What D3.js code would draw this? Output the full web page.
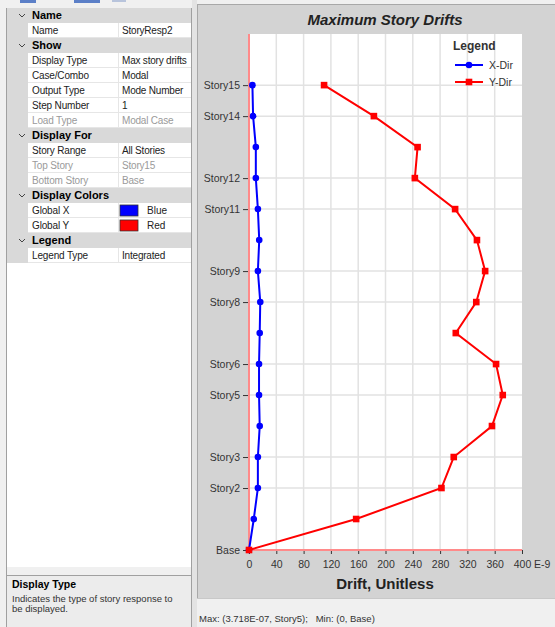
<!DOCTYPE html>
<html>
<head>
<meta charset="utf-8">
<script src="https://cdn.jsdelivr.net/npm/d3@7"></script>
<style>
  html, body { margin: 0; padding: 0; background: #f0f0f0; }
  svg { display: block; }
  text { font-family: "Liberation Sans", Arial, sans-serif; }
</style>
</head>
<body>
<svg id="view" width="555" height="627"></svg>
<script>
// ---- data ----
const stories = ["Base", "Story1", "Story2", "Story3", "Story4", "Story5", "Story6", "Story7",
  "Story8", "Story9", "Story10", "Story11", "Story12", "Story13", "Story14", "Story15"];
const labeledStories = ["Base", "Story2", "Story3", "Story5", "Story6", "Story8", "Story9",
  "Story11", "Story12", "Story14", "Story15"];
// drift values in units of 1E-9
const driftX = [0, 7, 13, 13, 15.7, 14.7, 14.7, 15.7, 16.5, 13, 15, 13, 10, 10, 6, 5];
const driftY = [0, 157, 282, 300, 356, 371.8, 362, 303, 333, 346, 334, 302, 243, 247, 183, 110];
const xTicks = [0, 40, 80, 120, 160, 200, 240, 280, 320, 360, 400];
const seriesNames = ["X-Dir", "Y-Dir"];
const seriesColors = ["#0000ff", "#ff0000"];

// property grid rows: [kind, label, value]
const gridRows = [
  ["head", "Name", ""],
  ["row", "Name", "StoryResp2"],
  ["head", "Show", ""],
  ["row", "Display Type", "Max story drifts"],
  ["row", "Case/Combo", "Modal"],
  ["row", "Output Type", "Mode Number"],
  ["row", "Step Number", "1"],
  ["dim", "Load Type", "Modal Case"],
  ["head", "Display For", ""],
  ["row", "Story Range", "All Stories"],
  ["dim", "Top Story", "Story15"],
  ["dim", "Bottom Story", "Base"],
  ["head", "Display Colors", ""],
  ["color", "Global X", "Blue"],
  ["color", "Global Y", "Red"],
  ["head", "Legend", ""],
  ["row", "Legend Type", "Integrated"]
];
const swatchColors = { "Blue": "#0000ff", "Red": "#ff0000" };

const svg = d3.select("#view");

// ---- window chrome ----
svg.append("rect").attr("x", 0).attr("y", 0).attr("width", 555).attr("height", 627).attr("fill", "#f0f0f0");
svg.append("rect").attr("x", 20).attr("y", 0).attr("width", 16).attr("height", 3).attr("fill", "#5b7fc7");
svg.append("rect").attr("x", 74).attr("y", 0).attr("width", 26).attr("height", 3).attr("fill", "#5b7fc7");
svg.append("rect").attr("x", 112).attr("y", 0).attr("width", 14).attr("height", 2).attr("fill", "#b8c4dc");

// ---- property grid ----
const gx0 = 7, gx1 = 191, gSplit = 118, rowH = 15, gTop = 8;
svg.append("rect").attr("x", gx0).attr("y", gTop).attr("width", gx1 - gx0).attr("height", 567 - gTop)
  .attr("fill", "#ffffff");
const rows = svg.append("g");
gridRows.forEach((r, i) => {
  const y = gTop + i * rowH;
  if (r[0] === "head") {
    rows.append("rect").attr("x", gx0).attr("y", y).attr("width", gx1 - gx0).attr("height", rowH).attr("fill", "#d9d9d9");
    rows.append("path").attr("d", `M${19},${y + 6} l3,3 l3,-3`).attr("fill", "none").attr("stroke", "#444").attr("stroke-width", 1);
    rows.append("text").attr("x", 32).attr("y", y + 11).attr("font-size", 11).attr("font-weight", "bold")
      .attr("fill", "#000").text(r[1]);
  } else {
    rows.append("rect").attr("x", gx0).attr("y", y).attr("width", 21).attr("height", rowH).attr("fill", "#d9d9d9");
    rows.append("line").attr("x1", 28).attr("x2", gx1).attr("y1", y + rowH - 0.5).attr("y2", y + rowH - 0.5)
      .attr("stroke", "#e6e6e6");
    rows.append("line").attr("x1", gSplit + 0.5).attr("x2", gSplit + 0.5).attr("y1", y).attr("y2", y + rowH)
      .attr("stroke", "#e6e6e6");
    const col = r[0] === "dim" ? "#9a9a9a" : "#222";
    rows.append("text").attr("x", 32).attr("y", y + 11).attr("font-size", 10).attr("letter-spacing", -0.15)
      .attr("fill", col).text(r[1]);
    if (r[0] === "color") {
      rows.append("rect").attr("x", 120).attr("y", y + 2).attr("width", 18).attr("height", 11)
        .attr("fill", swatchColors[r[2]]).attr("stroke", "#333").attr("stroke-width", 0.8);
      rows.append("text").attr("x", 147).attr("y", y + 11).attr("font-size", 10).attr("fill", col).text(r[2]);
    } else {
      rows.append("text").attr("x", 122).attr("y", y + 11).attr("font-size", 10).attr("letter-spacing", -0.2)
        .attr("fill", col).text(r[2]);
    }
  }
});
svg.append("line").attr("x1", gx0 - 0.5).attr("x2", gx0 - 0.5).attr("y1", gTop).attr("y2", 627).attr("stroke", "#a0a0a0");
svg.append("line").attr("x1", gx1 + 0.5).attr("x2", gx1 + 0.5).attr("y1", gTop).attr("y2", 627).attr("stroke", "#a0a0a0");

// description box
svg.append("rect").attr("x", gx0).attr("y", 575).attr("width", gx1 - gx0).attr("height", 52).attr("fill", "#ececec");
svg.append("line").attr("x1", gx0).attr("x2", gx1).attr("y1", 575.5).attr("y2", 575.5).attr("stroke", "#a0a0a0");
svg.append("text").attr("x", 12).attr("y", 588).attr("font-size", 10.5).attr("font-weight", "bold").text("Display Type");
svg.append("text").attr("x", 12).attr("y", 602).attr("font-size", 9.5).attr("fill", "#333")
  .text("Indicates the type of story response to");
svg.append("text").attr("x", 12).attr("y", 612).attr("font-size", 9.5).attr("fill", "#333").text("be displayed.");

// splitter
svg.append("rect").attr("x", 192).attr("y", 0).attr("width", 5).attr("height", 627).attr("fill", "#e3e3e3");

// ---- chart panel ----
svg.append("rect").attr("x", 197).attr("y", 4).attr("width", 358).attr("height", 594).attr("fill", "#d3d3d3");
svg.append("line").attr("x1", 197.5).attr("x2", 197.5).attr("y1", 4).attr("y2", 598).attr("stroke", "#a8a8a8");
svg.append("line").attr("x1", 197).attr("x2", 555).attr("y1", 4.5).attr("y2", 4.5).attr("stroke", "#a8a8a8");

// status bar
svg.append("rect").attr("x", 197).attr("y", 598).attr("width", 358).attr("height", 29).attr("fill", "#f0f0f0");
svg.append("line").attr("x1", 197).attr("x2", 555).attr("y1", 598.5).attr("y2", 598.5).attr("stroke", "#c8c8c8");
const maxIdx = d3.maxIndex(driftY);
svg.append("text").attr("x", 199).attr("y", 622).attr("font-size", 9.5).attr("fill", "#333")
  .attr("xml:space", "preserve")
  .text(`Max: (${(driftY[maxIdx] * 1e-9).toExponential(3).replace("e-", "E-0")}, ${stories[maxIdx]});   Min: (0, Base)`);

// ---- plot ----
const x = d3.scaleLinear().domain([0, 400]).range([249, 522]);
const y = d3.scaleLinear().domain([0, 16.65]).range([550, 34]);
const storyIndex = s => stories.indexOf(s);

const plot = svg.append("g");
plot.append("rect").attr("x", x(0)).attr("y", y(16.65)).attr("width", x(400) - x(0)).attr("height", y(0) - y(16.65))
  .attr("fill", "#ffffff");

// gridlines
plot.append("g").selectAll("line").data(xTicks.slice(1, -1)).join("line")
  .attr("x1", d => x(d)).attr("x2", d => x(d)).attr("y1", y(16.65)).attr("y2", y(0))
  .attr("stroke", "#e2e2e2").attr("stroke-width", 1.5);
plot.append("g").selectAll("line").data(labeledStories.slice(1)).join("line")
  .attr("x1", x(0)).attr("x2", x(400)).attr("y1", d => y(storyIndex(d))).attr("y2", d => y(storyIndex(d)))
  .attr("stroke", "#e2e2e2").attr("stroke-width", 1.5);

// axes
const tickSizeX = 4, tickPadX = 7, tickFont = 10.5;
const xAxis = d3.axisBottom(x).tickValues(xTicks).tickSize(tickSizeX).tickPadding(tickPadX);
const gxA = plot.append("g").attr("transform", `translate(0,${y(0)})`).call(xAxis);
gxA.select(".domain").remove();
gxA.selectAll("line").attr("stroke", "#333");
gxA.selectAll("text").attr("font-size", tickFont).attr("fill", "#333").attr("font-family", "Liberation Sans, Arial, sans-serif");

const yAxis = d3.axisLeft(y).tickValues(labeledStories.map(storyIndex)).tickFormat(i => stories[i])
  .tickSize(5).tickPadding(3);
const gyA = plot.append("g").attr("transform", `translate(${x(0) - 1},0)`).call(yAxis);
gyA.select(".domain").remove();
gyA.selectAll("line").attr("stroke", "#333");
gyA.selectAll("text").attr("font-size", 10.5).attr("fill", "#333").attr("font-family", "Liberation Sans, Arial, sans-serif");

plot.append("line").attr("x1", x(0)).attr("x2", x(0)).attr("y1", y(16.65)).attr("y2", y(0))
  .attr("stroke", "#ff8a8a").attr("stroke-width", 2);
plot.append("line").attr("x1", x(0)).attr("x2", x(400)).attr("y1", y(0)).attr("y2", y(0))
  .attr("stroke", "#ff8a8a").attr("stroke-width", 2);

// exponent label on the tick-label baseline
svg.append("text").attr("x", 534).attr("y", y(0) + Math.max(tickSizeX, 0) + tickPadX).attr("dy", "0.71em")
  .attr("font-size", tickFont).attr("fill", "#333").text("E-9");

// titles
svg.append("text").attr("x", 385).attr("y", 25).attr("text-anchor", "middle").attr("font-size", 15)
  .attr("font-weight", "bold").attr("font-style", "italic").attr("fill", "#222").text("Maximum Story Drifts");
svg.append("text").attr("x", 385).attr("y", 589).attr("text-anchor", "middle").attr("font-size", 15)
  .attr("font-weight", "bold").attr("fill", "#222").text("Drift, Unitless");

// series
const line = d3.line().x(d => x(d.v)).y(d => y(d.i));
[driftX, driftY].forEach((vals, k) => {
  const pts = vals.map((v, i) => ({ v, i }));
  const g = plot.append("g");
  g.append("path").datum(pts).attr("d", line).attr("fill", "none")
    .attr("stroke", seriesColors[k]).attr("stroke-width", 2);
  if (k === 0) {
    g.selectAll("circle").data(pts).join("circle").attr("cx", d => x(d.v)).attr("cy", d => y(d.i))
      .attr("r", 3.3).attr("fill", seriesColors[k]);
  } else {
    g.selectAll("rect").data(pts).join("rect").attr("x", d => x(d.v) - 3.3).attr("y", d => y(d.i) - 3.3)
      .attr("width", 6.6).attr("height", 6.6).attr("fill", seriesColors[k]);
  }
});

// legend
const lg = svg.append("g");
lg.append("text").attr("x", 453).attr("y", 50).attr("font-size", 12).attr("font-weight", "bold").attr("fill", "#333").text("Legend");
seriesNames.forEach((n, k) => {
  const ly = 65 + k * 17;
  lg.append("line").attr("x1", 455).attr("x2", 483).attr("y1", ly).attr("y2", ly)
    .attr("stroke", seriesColors[k]).attr("stroke-width", 2);
  if (k === 0) lg.append("circle").attr("cx", 469).attr("cy", ly).attr("r", 3.3).attr("fill", seriesColors[k]);
  else lg.append("rect").attr("x", 469 - 3.3).attr("y", ly - 3.3).attr("width", 6.6).attr("height", 6.6).attr("fill", seriesColors[k]);
  lg.append("text").attr("x", 489).attr("y", ly + 4).attr("font-size", 10.5).attr("fill", "#333").text(n);
});
</script>
</body>
</html>
